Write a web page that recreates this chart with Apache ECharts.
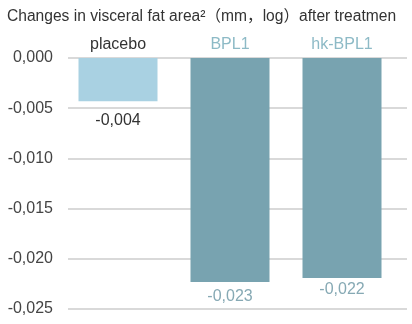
<!DOCTYPE html>
<html><head><meta charset="utf-8">
<script src="https://cdn.jsdelivr.net/npm/echarts@6/dist/echarts.min.js"></script>
<style>html,body{margin:0;padding:0;background:#fff}#c{width:412px;height:324px}</style>
</head><body><div id="c"></div>
<script>
var categories = ['placebo', 'BPL1', 'hk-BPL1'];
var values = [-0.0043, -0.0223, -0.0219];
var valueLabels = ['-0,004', '-0,023', '-0,022'];
var yTicks = [0, -0.005, -0.010, -0.015, -0.020, -0.025];
var titleText = 'Changes in visceral fat area\u00b2\uff08mm\uff0clog\uff09after treatmen';

var FONT = '"Liberation Sans", Arial, "Noto Sans CJK SC", sans-serif';
var catColors = ['#333333', '#8dbac6', '#8dbac6'];
var barColors = ['#a9d1e2', '#78a3b0', '#78a3b0'];
var labelColors = ['#333333', '#86a9b4', '#86a9b4'];
var labelDist = [11, 7, 4];

var chart = echarts.init(document.getElementById('c'));
chart.setOption({
  animation: false,
  title: {
    text: titleText, left: 2, top: 4,
    textStyle: { fontFamily: FONT, fontSize: 15.6, fontWeight: 'normal', color: '#333' }
  },
  grid: [
    { left: 68, right: 5, top: 58, height: 251 },
    { left: 62, width: 336, top: 58, height: 251 }
  ],
  xAxis: [
    { gridIndex: 0, type: 'category', data: categories, show: false },
    { gridIndex: 1, type: 'category', position: 'top',
      data: categories.map(function (c, i) { return { value: c, textStyle: { color: catColors[i] } }; }),
      axisLine: { show: false }, axisTick: { show: false },
      axisLabel: { margin: 5, fontFamily: FONT, fontSize: 16 } }
  ],
  yAxis: [
    { gridIndex: 0, type: 'value', min: -0.025, max: 0, interval: 0.005,
      axisLine: { show: false }, axisTick: { show: false },
      splitLine: { lineStyle: { color: '#cccccc', width: 1.5 } },
      axisLabel: { margin: 15, fontFamily: FONT, fontSize: 16, color: '#444',
        formatter: function (v) {
          var s = Math.abs(v).toFixed(3).replace('.', ',');
          return (v < -1e-9 ? '-' : '') + s;
        } } },
    { gridIndex: 1, type: 'value', min: -0.025, max: 0, show: false, splitLine: { show: false } }
  ],
  series: [{
    type: 'bar', xAxisIndex: 1, yAxisIndex: 1, barWidth: 79,
    data: values.map(function (v, i) {
      return {
        value: v,
        itemStyle: { color: barColors[i] },
        label: { show: true, position: 'bottom', distance: labelDist[i], color: labelColors[i],
          fontFamily: FONT, fontSize: 16, formatter: valueLabels[i] }
      };
    })
  }]
});
</script></body></html>
